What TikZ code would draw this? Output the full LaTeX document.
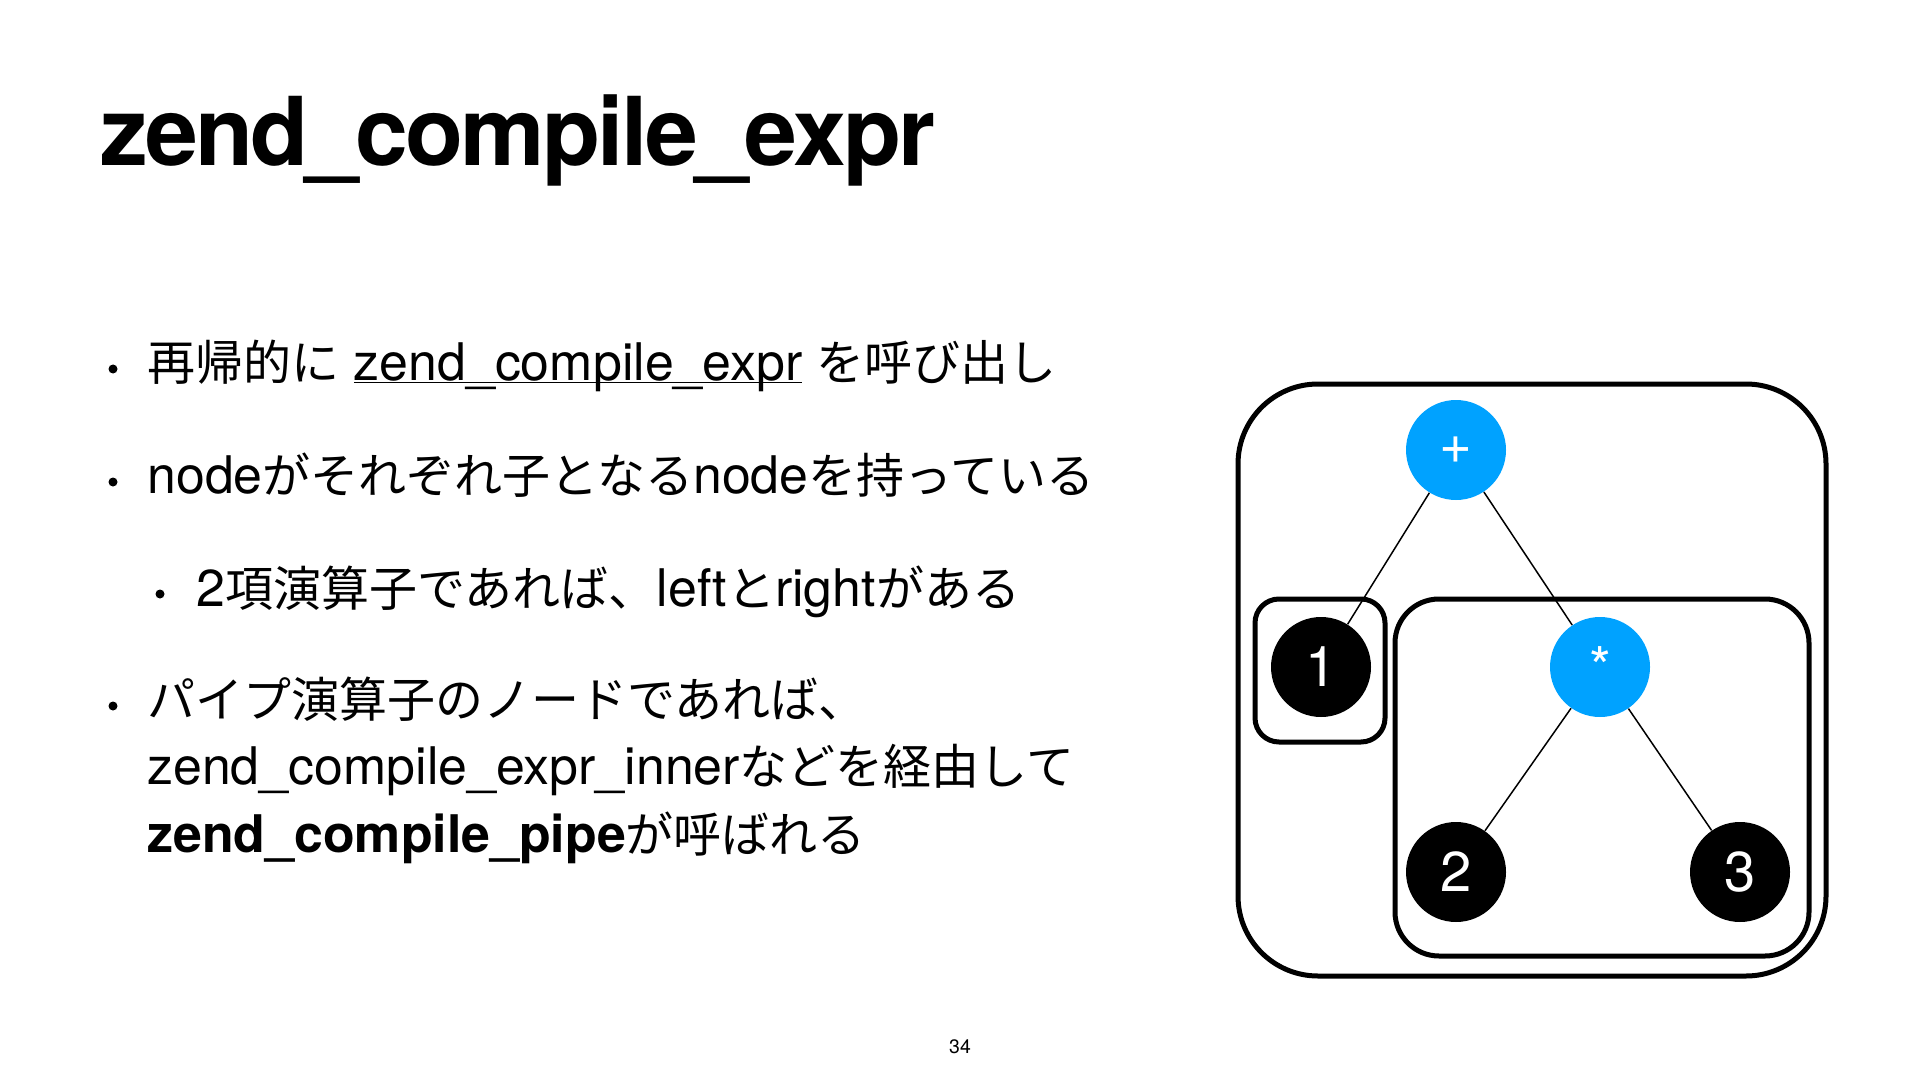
\documentclass[tikz,border=0pt]{standalone}
\usepackage{fontspec}
\setmainfont{TeX Gyre Heros}[Scale=1.08]
\newfontfamily\jpfont{Noto Sans CJK JP}
\newfontfamily\titlefont{TeX Gyre Heros}[LetterSpace=-3.0]
\newcommand\jtext[1]{{\jpfont #1}}
\definecolor{opblue}{HTML}{00A2FF}

\begin{document}
\begin{tikzpicture}[x=0.5pt,y=-0.5pt,
 body/.style={anchor=base west,inner sep=0pt,font=\fontsize{24}{33.5}\selectfont},
 bul/.style={circle,fill=black,inner sep=0pt,minimum size=4.5pt},
 op/.style={circle,fill=opblue,text=white,inner sep=0pt,minimum size=50pt,font=\fontsize{26}{26}\selectfont},
 leaf/.style={op,fill=black},
 grp/.style={draw=black,line width=2.5pt},
 edge/.style={draw=black,line width=.75pt}]
\path[use as bounding box,fill=white] (0,0) rectangle (1920,1080);
% title
\node[anchor=base west,inner sep=0pt,font=\titlefont\bfseries\fontsize{47.5}{50}\selectfont] (title) at (100,166) {zend\_compile\_expr};
% bullets
\node[bul] (b1) at (113,369) {};
\node[body] (l1) at (147,380) {\jtext{再帰的に} \underline{\smash{zend\_compile\_expr}} \jtext{を呼び出し}};
\node[bul] (b2) at (113,482) {};
\node[body] (l2) at (147,493) {node\jtext{がそれぞれ子となる}node\jtext{を持っている}};
\node[bul] (b3) at (160,594) {};
\node[body] (l3) at (196,606) {2\jtext{項演算子であれば、}left\jtext{と}right\jtext{がある}};
\node[bul] (b4) at (113,706) {};
\node[body] (l4) at (147,717) {\jtext{パイプ演算子のノードであれば、}};
\node[body] (l5) at (147,784) {zend\_compile\_expr\_inner\jtext{などを経由して}};
\node[body] (l6) at (147,852) {\textbf{zend\_compile\_pipe}\jtext{が呼ばれる}};
% tree
\node[op] (plus) at (1456,450) {+};
\node[leaf] (one) at (1321,667) {1};
\node[op] (star) at (1600,667) {*};
\node[leaf] (two) at (1456,872) {2};
\node[leaf] (three) at (1740,872) {3};
\draw[edge] (plus) -- (one);
\draw[edge] (plus) -- (star);
\draw[edge] (star) -- (two);
\draw[edge] (star) -- (three);
\draw[grp,rounded corners=40pt] (1238,384) rectangle (1826,976);
\draw[grp,rounded corners=12pt] (1255,599) rectangle (1385,742);
\draw[grp,rounded corners=22pt] (1395,599) rectangle (1809,956);
% page number
\node[anchor=base,inner sep=0pt,font=\fontsize{9}{9}\selectfont] (pagenum) at (960,1053) {34};
\end{tikzpicture}
\end{document}
